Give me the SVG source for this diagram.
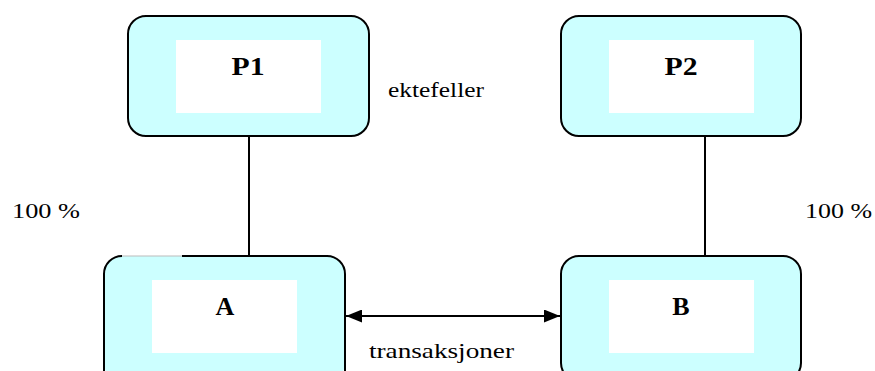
<svg xmlns="http://www.w3.org/2000/svg" width="875" height="371" viewBox="0 0 875 371">
<style>
.box{fill:#ccffff;stroke:#000;stroke-width:2}
.inner{fill:#fff}
.title{font-family:"Liberation Serif","Times New Roman",serif;font-weight:bold;font-size:26px;fill:#000;text-anchor:middle}
.lbl{font-family:"Liberation Serif","Times New Roman",serif;font-size:22px;fill:#000}
.conn{stroke:#000;stroke-width:2;fill:none}
</style>
<defs>
<marker id="ah" viewBox="0 0 16 13" refX="16" refY="6.5" markerWidth="16" markerHeight="13" markerUnits="userSpaceOnUse" orient="auto-start-reverse">
<path d="M0,0 L16,6.5 L0,13 Z" fill="#000"/>
</marker>
</defs>
<rect width="875" height="371" fill="#fff"/>
<g id="connectors">
<line class="conn" x1="249" y1="136" x2="249" y2="256"/>
<line class="conn" x1="705" y1="136" x2="705" y2="256"/>
<line class="conn" x1="346" y1="316" x2="560" y2="316" marker-start="url(#ah)" marker-end="url(#ah)"/>
</g>
<g id="P1">
<rect class="box" x="128" y="16" width="241" height="120" rx="18"/>
<rect class="inner" x="176" y="40" width="145" height="73"/>
<text class="title" x="248" y="75" textLength="33" lengthAdjust="spacingAndGlyphs">P1</text>
</g>
<g id="P2">
<rect class="box" x="561" y="16" width="240" height="120" rx="18"/>
<rect class="inner" x="609" y="40" width="145" height="73"/>
<text class="title" x="681" y="75" textLength="33" lengthAdjust="spacingAndGlyphs">P2</text>
</g>
<g id="A">
<rect x="104" y="256" width="241" height="125" rx="18" fill="#ccffff"/>
<path d="M182,256 L327,256 A18,18 0 0 1 345,274 L345,381 M104,381 L104,274 A18,18 0 0 1 122,256" stroke="#000" stroke-width="2" fill="none"/>
<line x1="122" y1="256" x2="182" y2="256" stroke="#bbbbbb" stroke-width="1"/>
<rect class="inner" x="152" y="280" width="145" height="73"/>
<text class="title" x="225" y="315">A</text>
</g>
<g id="B">
<rect class="box" x="561" y="256" width="240" height="125" rx="18"/>
<rect class="inner" x="609" y="280" width="145" height="73"/>
<text class="title" x="681" y="315">B</text>
</g>
<g id="labels">
<text class="lbl" x="388" y="97" textLength="96" lengthAdjust="spacingAndGlyphs">ektefeller</text>
<text class="lbl" x="369" y="358" textLength="145" lengthAdjust="spacingAndGlyphs">transaksjoner</text>
<text class="lbl" x="12" y="218" textLength="68" lengthAdjust="spacingAndGlyphs">100 %</text>
<text class="lbl" x="805" y="218" textLength="67" lengthAdjust="spacingAndGlyphs">100 %</text>
</g>
</svg>
